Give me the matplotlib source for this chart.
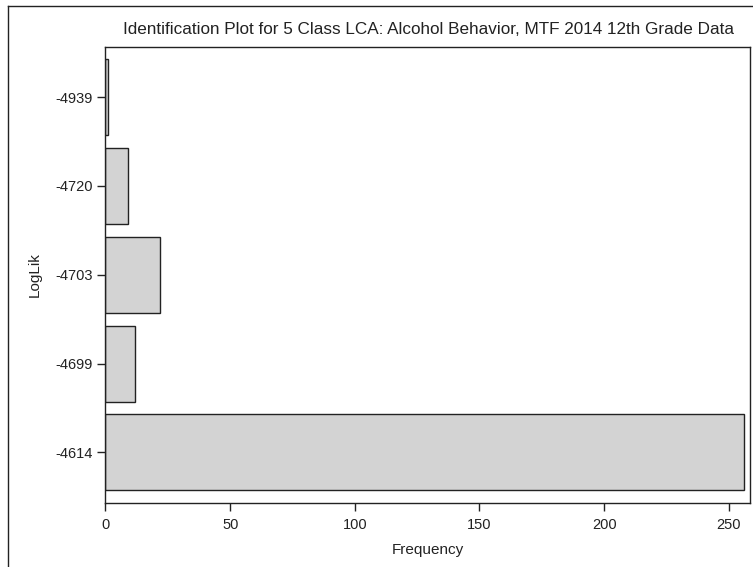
import matplotlib.pyplot as plt
from matplotlib.lines import Line2D

# data
loglik = ['-4939', '-4720', '-4703', '-4699', '-4614']
frequency = [1, 9, 22, 12, 256]
title = 'Identification Plot for 5 Class LCA: Alcohol Behavior, MTF 2014 12th Grade Data'

plt.rcParams['font.family'] = ['Liberation Sans', 'DejaVu Sans']

fig = plt.figure(figsize=(7.53, 5.67), dpi=100)
ax = fig.add_axes([105.5 / 753, 64 / 567, (750 - 105.5) / 753, (503 - 46.5) / 567])

pos = list(range(len(loglik)))
ax.barh(pos, frequency, height=0.857, color='#d3d3d3', edgecolor='#222222', linewidth=1)

ax.set_ylim(len(loglik) - 0.43, -0.57)
ax.set_xlim(0, 258.5)
ax.set_yticks(pos)
ax.set_yticklabels(loglik)
ax.set_xticks([0, 50, 100, 150, 200, 250])
ax.tick_params(axis='both', length=6, width=1, color='#222222', labelsize=10.5, pad=3,
               labelcolor='#222222')
ax.tick_params(axis='x', pad=5)
for s in ax.spines.values():
    s.set_color('#222222')
    s.set_linewidth(1)

ax.set_xlabel('Frequency', fontsize=11, labelpad=8, color='#222222')
ax.set_ylabel('LogLik', fontsize=11, labelpad=10, color='#222222')
fig.text(428 / 753, 1 - 30 / 567, title, ha='center', va='center', fontsize=12.3,
         color='#222222')

# outer frame (only left and top edges visible in the image)
fig.add_artist(Line2D([7.5 / 753, 7.5 / 753], [0, 1 - 6 / 567], transform=fig.transFigure,
                      color='#222222', linewidth=1))
fig.add_artist(Line2D([7.5 / 753, 1], [1 - 6 / 567, 1 - 6 / 567], transform=fig.transFigure,
                      color='#222222', linewidth=1))

fig.savefig('out.png', dpi=100)
